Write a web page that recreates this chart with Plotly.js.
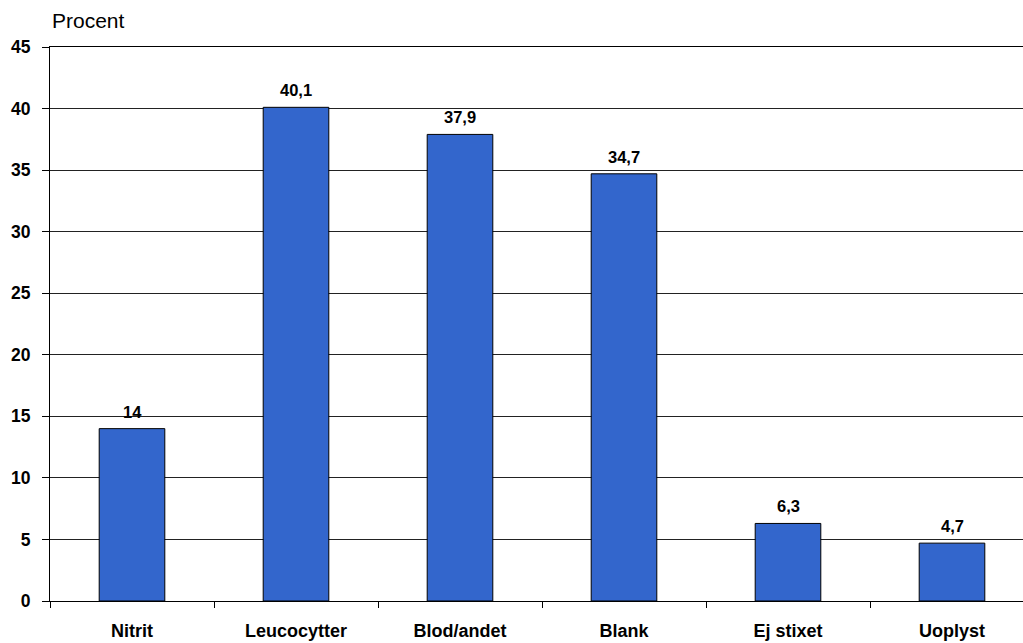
<!DOCTYPE html>
<html>
<head>
<meta charset="utf-8">
<script src="https://cdn.plot.ly/plotly-3.0.1.min.js"></script>
<style>
  html, body { margin: 0; padding: 0; background: #fff; }
  #chart { width: 1023px; height: 643px; }
</style>
</head>
<body>
<div id="chart"></div>
<script>
// Urinstix-fund, andel i procent
const categories = ['Nitrit', 'Leucocytter', 'Blod/andet', 'Blank', 'Ej stixet', 'Uoplyst'];
const values = [14, 40.1, 37.9, 34.7, 6.3, 4.7];
const yTicks = [0, 5, 10, 15, 20, 25, 30, 35, 40, 45];

const FONT = 'Arial, "Liberation Sans", sans-serif';
const fmt = v => String(v).replace('.', ',');

const bars = {
  type: 'bar',
  x: categories,
  y: values,
  width: 0.4,
  marker: { color: '#3366CC', line: { color: '#000000', width: 1 } },
  hoverinfo: 'skip'
};

// value labels above each bar
const valueLabels = categories.map((c, i) => ({
  x: c, y: values[i], xref: 'x', yref: 'y',
  text: '<b>' + fmt(values[i]) + '</b>',
  showarrow: false, yanchor: 'bottom', yshift: 6,
  font: { family: FONT, size: 16.5, color: '#000' }
}));

const layout = {
  width: 1023, height: 643,
  margin: { l: 50, r: 0, t: 47, b: 42 },
  paper_bgcolor: '#fff', plot_bgcolor: '#fff',
  showlegend: false,
  font: { family: FONT, color: '#000' },
  xaxis: {
    type: 'category',
    range: [-0.5, -0.5 + 973 / 164],
    tickson: 'boundaries',
    ticks: 'outside', ticklen: 6, tickcolor: '#000', tickwidth: 1,
    showline: true, linecolor: '#000', linewidth: 1, mirror: true,
    showgrid: false, zeroline: false,
    tickfont: { family: FONT, size: 18, color: '#000', weight: 'bold' },
    ticklabelstandoff: 13
  },
  yaxis: {
    range: [0, 45],
    tickvals: yTicks,
    ticktext: yTicks.map(String),
    ticks: 'outside', ticklen: 7, tickcolor: '#000', tickwidth: 1,
    showline: true, linecolor: '#000', linewidth: 1,
    showgrid: true, gridcolor: '#222', gridwidth: 1,
    zeroline: false,
    tickfont: { family: FONT, size: 17.5, color: '#000', weight: 'bold' },
    ticklabelstandoff: 8
  },
  annotations: [
    {
      xref: 'paper', yref: 'paper', x: 0, y: 1,
      xanchor: 'left', yanchor: 'bottom', yshift: 13,
      text: 'Procent', showarrow: false,
      font: { family: FONT, size: 21, color: '#000' }
    }
  ].concat(valueLabels)
};

Plotly.newPlot('chart', [bars], layout, { staticPlot: true, displayModeBar: false });
</script>
</body>
</html>
